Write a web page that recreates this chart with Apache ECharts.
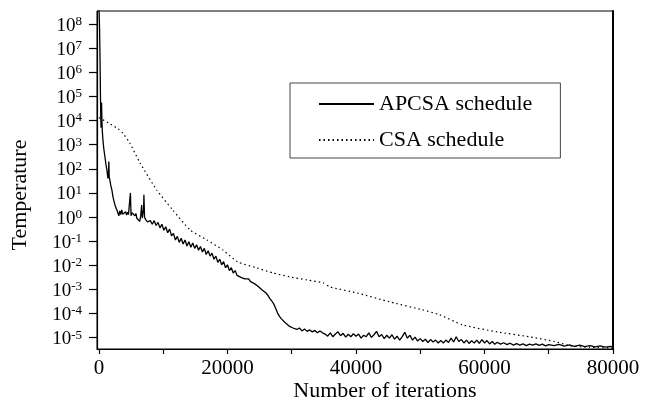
<!DOCTYPE html>
<html>
<head>
<meta charset="utf-8">
<script src="https://cdn.jsdelivr.net/npm/echarts@6/dist/echarts.min.js"></script>
<style>
html,body{margin:0;padding:0;background:#fff;}
#chart{width:653px;height:404px;}
</style>
</head>
<body>
<div id="chart"></div>
<script>
// Iterations (x) and log10(Temperature)
var apcsaX = [0,100,180,240,290,330,370,410,460,520,620,750,930,1080,1240,1400,1480,1540,1600,1710,1850,2020,2180,2350,2500,2650,2800,2950,
 3100,3250,3400,3550,3700,3850,4000,4150,4300,4450,4600,4750,4900,5000,5150,5300,5450,5600,5750,5900,6050,6200,6350,6500,6650,6750,6850,6950,7000,7100,7250,7400,7550,7700,7850,8000,
 8300,8600,8900,9200,9500,9800,10100,10400,10700,11000,11300,11600,11900,12200,12500,12800,13100,13400,13700,14000,14300,14600,14900,15200,15500,15800,16100,16400,16700,17000,17300,17600,17900,18200,18500,18800,19100,19400,19700,20000,20300,20600,20900,21200,21500,
 21800,22100,22400,22700,23000,23300,23600,23900,24200,24500,24800,25100,25400,25700,26000,26300,26600,26900,27200,27500,27800,28100,28400,28700,29000,29300,29600,29900,30200,30500,30800,31200,31600,32000,32400,32800,33200,33600,34000,34400,34800,
 35200,35600,36000,36400,36800,37200,37600,38000,38400,38800,39200,39600,40000,40400,40800,41200,41600,42000,42400,42800,43200,43600,44000,44400,44800,45200,45600,46000,46400,46800,47200,47600,48000,48400,48800,49200,49600,50000,50400,50800,51200,51600,52000,52400,52800,53200,53600,54000,54400,54800,55200,55600,56000,56400,56800,57200,57600,58000,58400,58800,59200,59600,60000,60400,60800,61200,61600,62000,62500,63000,63500,64000,64500,65000,65500,66000,66500,67000,67500,68000,68500,69000,69500,70000,70800,71600,72400,73200,74000,74800,75600,76400,77200,78000,78800,79600,80000];
var apcsaLog10T = [8.8,7.8,6.4,5.0,4.1,3.7,4.3,4.75,4.1,3.6,3.2,2.85,2.5,2.2,1.95,1.6,1.75,2.3,1.65,1.53,1.3,1.12,0.85,0.65,0.5,0.38,0.29,0.22,
 0.05,0.25,0.1,0.3,0.12,0.2,0.05,0.22,0.08,0.2,0.1,0.15,1.0,0.05,0.18,0.1,0.2,0.05,0.15,-0.05,-0.12,0.02,-0.18,0.05,0.5,-0.05,0.15,0.3,0.92,0.0,-0.1,-0.02,-0.2,-0.12,-0.25,-0.15,
 -0.3,-0.15,-0.35,-0.22,-0.45,-0.3,-0.55,-0.4,-0.65,-0.5,-0.78,-0.68,-0.95,-0.8,-1.05,-0.88,-1.12,-0.95,-1.2,-1.02,-1.25,-1.08,-1.3,-1.15,-1.38,-1.22,-1.45,-1.3,-1.55,-1.4,-1.62,-1.5,-1.75,-1.62,-1.88,-1.75,-1.98,-1.85,-2.1,-1.98,-2.22,-2.1,-2.32,-2.22,-2.42,
 -2.42,-2.5,-2.46,-2.56,-2.6,-2.56,-2.68,-2.66,-2.76,-2.8,-2.88,-2.95,-3.02,-3.08,-3.15,-3.25,-3.38,-3.48,-3.6,-3.78,-3.98,-4.12,-4.22,-4.3,-4.38,-4.42,-4.52,-4.46,-4.6,-4.55,-4.66,-4.6,-4.72,-4.64,-4.74,-4.68,-4.76,-4.7,-4.8,-4.72,-4.8,
 -4.85,-4.94,-4.8,-4.96,-4.85,-4.76,-4.92,-4.82,-4.98,-4.86,-4.96,-4.84,-4.94,-4.85,-5.02,-4.9,-4.96,-4.8,-4.99,-4.88,-4.74,-4.96,-4.87,-5.04,-4.9,-5.02,-4.88,-5.06,-4.94,-5.1,-4.96,-4.78,-5.02,-4.9,-5.1,-4.98,-5.14,-5.04,-5.16,-5.06,-5.2,-5.08,-5.18,-5.1,-5.22,-5.12,-5.22,-5.1,-5.2,-5.02,-5.18,-4.96,-5.16,-5.08,-5.22,-5.1,-5.24,-5.13,-5.22,-5.1,-5.24,-5.08,-5.22,-5.12,-5.26,-5.16,-5.27,-5.19,-5.27,-5.21,-5.29,-5.23,-5.31,-5.25,-5.31,-5.26,-5.33,-5.27,-5.31,-5.26,-5.32,-5.27,-5.34,-5.29,-5.33,-5.28,-5.35,-5.3,-5.36,-5.31,-5.37,-5.33,-5.38,-5.34,-5.39,-5.36,-5.39,-5.37,-5.38];

var csaX = [0,1500,3000,3700,4800,6400,9000,11500,14200,16800,19300,21600,24600,27100,29700,32400,34900,36000,40200,45300,50400,53000,56600,62000,67100,71300,73300,76400,80000];
var csaLog10T = [4.12,3.9,3.65,3.48,3.07,2.24,1.12,0.29,-0.54,-0.95,-1.37,-1.86,-2.11,-2.32,-2.48,-2.61,-2.73,-2.9,-3.15,-3.52,-3.85,-4.05,-4.47,-4.76,-4.97,-5.18,-5.34,-5.4,-5.43];

var seriesNames = ['APCSA schedule', 'CSA schedule'];
var xTickLabels = [0, 20000, 40000, 60000, 80000];
var xTicks = [0, 10000, 20000, 30000, 40000, 50000, 60000, 70000, 80000];
var yDecades = [-5,-4,-3,-2,-1,0,1,2,3,4,5,6,7,8];

function pairs(xs, ys){ return xs.map(function(x,i){ return [x, ys[i]]; }); }

var FONT = '"Liberation Serif", "Times New Roman", serif';
var chart = echarts.init(document.getElementById('chart'), null, {renderer: 'canvas'});
chart.setOption({
  backgroundColor: '#fff',
  animation: false,
  grid: {left: 97, right: 40, top: 11, bottom: 55, show: true, borderColor: '#000', borderWidth: 1, backgroundColor: 'transparent'},
  legend: {
    left: 290, top: 83, orient: 'vertical',
    itemWidth: 55, itemHeight: 14, itemGap: 12,
    padding: [9, 28, 6, 28],
    borderColor: '#444', borderWidth: 1, backgroundColor: '#fff',
    itemStyle: {opacity: 0, borderWidth: 0},
    textStyle: {fontFamily: FONT, fontSize: 22, color: '#000', lineHeight: 24},
    data: seriesNames
  },
  xAxis: [{
    type: 'value', min: -300, max: 80000,
    axisLine: {show: true, onZero: false, lineStyle: {color: '#000', width: 1.2}},
    axisTick: {show: true, inside: false, length: 5, customValues: xTicks, lineStyle: {color: '#000', width: 1.2}},
    axisLabel: {customValues: xTickLabels, margin: 9, fontFamily: FONT, fontSize: 21, color: '#000',
      formatter: function(v){ return String(v); }},
    splitLine: {show: false}
  }],
  yAxis: [{
    type: 'value', min: -5.47, max: 8.54,
    axisLine: {show: true, onZero: false, lineStyle: {color: '#000', width: 1.2}},
    axisTick: {show: true, inside: false, length: 8, customValues: yDecades, lineStyle: {color: '#000', width: 1.2}},
    axisLabel: {
      customValues: yDecades, margin: 15, color: '#000',
      formatter: function(v){ return '{b|10}{s|' + v + '}'; },
      rich: {
        b: {fontFamily: FONT, fontSize: 19, color: '#000', verticalAlign: 'bottom', lineHeight: 22},
        s: {fontFamily: FONT, fontSize: 13, color: '#000', verticalAlign: 'bottom', lineHeight: 22, padding: [0, 0, 7, 0]}
      }
    },
    splitLine: {show: false}
  }, {
    type: 'value', min: -5.47, max: 8.54, position: 'right',
    axisLine: {show: true, onZero: false, lineStyle: {color: '#000', width: 2}},
    axisTick: {show: false}, axisLabel: {show: false}, splitLine: {show: false}
  }],
  graphic: [
    {type: 'text', x: 20, y: 195, rotation: Math.PI / 2,
     style: {text: 'Temperature', font: '22px ' + FONT, fill: '#000', align: 'center', verticalAlign: 'middle'}},
    {type: 'text', x: 385, y: 391,
     style: {text: 'Number of iterations', font: '22px ' + FONT, fill: '#000', align: 'center', verticalAlign: 'middle'}}
  ],
  series: [{
    name: seriesNames[0], type: 'line', showSymbol: false, symbol: 'none',
    data: pairs(apcsaX, apcsaLog10T),
    lineStyle: {color: '#000', width: 1.3, type: 'solid'},
    itemStyle: {color: '#000'}
  }, {
    name: seriesNames[1], type: 'line', showSymbol: false, symbol: 'none', smooth: 0.2,
    data: pairs(csaX, csaLog10T),
    lineStyle: {color: '#000', width: 1.2, type: [1.5, 3]},
    itemStyle: {color: '#000'}
  }]
});
</script>
</body>
</html>
